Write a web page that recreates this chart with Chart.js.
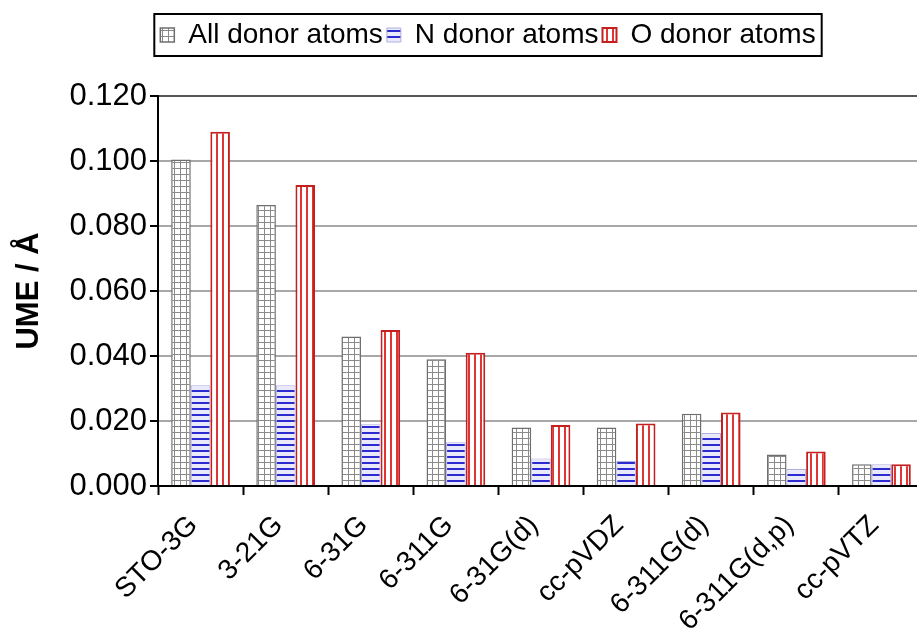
<!DOCTYPE html>
<html>
<head>
<meta charset="utf-8">
<script src="https://cdn.jsdelivr.net/npm/chart.js@4.4.1/dist/chart.umd.min.js"></script>
<style>
  html, body { margin: 0; padding: 0; background: #fff; overflow: hidden; }
  #wrap { width: 924px; height: 629px; position: relative; }
</style>
</head>
<body>
<div id="wrap"><canvas id="umeChart"></canvas></div>
<script>
// Basis sets and unsigned mean errors (Å)
const basisSets = ['STO-3G', '3-21G', '6-31G', '6-311G', '6-31G(d)', 'cc-pVDZ', '6-311G(d)', '6-311G(d,p)', 'cc-pVTZ'];
const allDonor  = [0.1005, 0.0865, 0.0460, 0.0390, 0.0180, 0.0180, 0.0222, 0.0097, 0.0067];
const nDonor    = [0.0310, 0.0310, 0.0190, 0.0135, 0.0085, 0.0077, 0.0163, 0.0052, 0.0067];
const oDonor    = [0.1090, 0.0926, 0.0480, 0.0410, 0.0188, 0.0192, 0.0226, 0.0106, 0.0067];
const yMax = 0.12;
const yStep = 0.02;

const FONT = "'Liberation Sans', Arial, sans-serif";

function makePattern(w, h, draw) {
  const c = document.createElement('canvas');
  c.width = w; c.height = h;
  const g = c.getContext('2d');
  draw(g);
  return g.createPattern(c, 'repeat');
}

// grey grid (All donor atoms)
const gridFill = makePattern(6, 6, g => {
  g.fillStyle = '#fff'; g.fillRect(0, 0, 6, 6);
  g.fillStyle = '#8a8a8a';
  g.fillRect(0, 0, 6, 1);
  g.fillRect(0, 0, 1, 6);
});
// blue horizontal lines (N donor atoms)
const hLineFill = makePattern(6, 6, g => {
  g.fillStyle = '#e9e9fb'; g.fillRect(0, 0, 6, 6);
  g.fillStyle = '#2b2bd0';
  g.fillRect(0, 0, 6, 2);
});
// red vertical lines (O donor atoms)
const vLineFill = makePattern(6, 6, g => {
  g.fillStyle = '#fff'; g.fillRect(0, 0, 6, 6);
  g.fillStyle = '#e03535';
  g.fillRect(0, 0, 2, 6);
});

// extra room between the legend and the plot
const legendGap = {
  id: 'legendGap',
  beforeInit(chart) {
    const fit = chart.legend.fit;
    chart.legend.fit = function () {
      fit.call(this);
      this.height += 37;
    };
  }
};

const legendFrame = {
  id: 'legendFrame',
  afterDraw(chart) {
    const boxes = chart.legend.legendHitBoxes;
    if (!boxes || !boxes.length) return;
    const left = Math.min(...boxes.map(b => b.left)) - 6;
    const right = Math.max(...boxes.map(b => b.left + b.width)) + 6;
    const top = Math.min(...boxes.map(b => b.top)) - 7;
    const bottom = Math.max(...boxes.map(b => b.top + b.height)) + 7;
    const ctx = chart.ctx;
    ctx.save();
    ctx.strokeStyle = '#000';
    ctx.lineWidth = 2;
    ctx.strokeRect(left, top, right - left, bottom - top);
    ctx.restore();
  }
};

new Chart(document.getElementById('umeChart'), {
  type: 'bar',
  data: {
    labels: basisSets,
    datasets: [
      { label: 'All donor atoms', data: allDonor, backgroundColor: gridFill, borderColor: '#6e6e6e', borderWidth: 1.5 },
      { label: 'N donor atoms',   data: nDonor,   backgroundColor: hLineFill, borderColor: '#b0b0e0', borderWidth: 1 },
      { label: 'O donor atoms',   data: oDonor,   backgroundColor: vLineFill, borderColor: '#c42020', borderWidth: 2 },
    ],
  },
  options: {
    responsive: true,
    maintainAspectRatio: false,
    animation: false,
    layout: { padding: { left: 52, top: 17, right: 0, bottom: 0 } },
    datasets: { bar: { categoryPercentage: 0.69, barPercentage: 1.0 } },
    plugins: {
      tooltip: { enabled: false },
      legend: {
        position: 'top',
        labels: {
          color: '#000',
          font: { family: FONT, size: 28 },
          boxWidth: 14,
          boxHeight: 14,
          padding: 4,
        },
      },
    },
    scales: {
      x: {
        afterFit: s => { s.height = 143; },
        border: { color: '#000', width: 2 },
        grid: { drawOnChartArea: false, tickLength: 9, tickColor: '#000', tickWidth: 2 },
        ticks: {
          color: '#000',
          font: { family: FONT, size: 28 },
          minRotation: 45,
          maxRotation: 45,
          autoSkip: false,
          labelOffset: -7,
          padding: 14,
        },
      },
      y: {
        min: 0,
        max: yMax,
        afterFit: s => { s.width = 106; },
        border: { color: '#000', width: 2 },
        grid: {
          color: c => (c.tick && c.tick.value >= yMax - 1e-9) ? '#555' : '#a8a8a8',
          lineWidth: 2,
          tickLength: 8,
          tickColor: '#000',
          tickWidth: 2,
        },
        ticks: {
          stepSize: yStep,
          color: '#000',
          font: { family: FONT, size: 31 },
          padding: 3,
          callback: v => v.toFixed(3),
        },
        title: {
          display: true,
          text: 'UME / Å',
          color: '#000',
          font: { family: FONT, size: 31, weight: 'bold' },
          padding: { top: -41, bottom: 0 },
        },
      },
    },
  },
  plugins: [legendGap, legendFrame],
});
</script>
</body>
</html>
